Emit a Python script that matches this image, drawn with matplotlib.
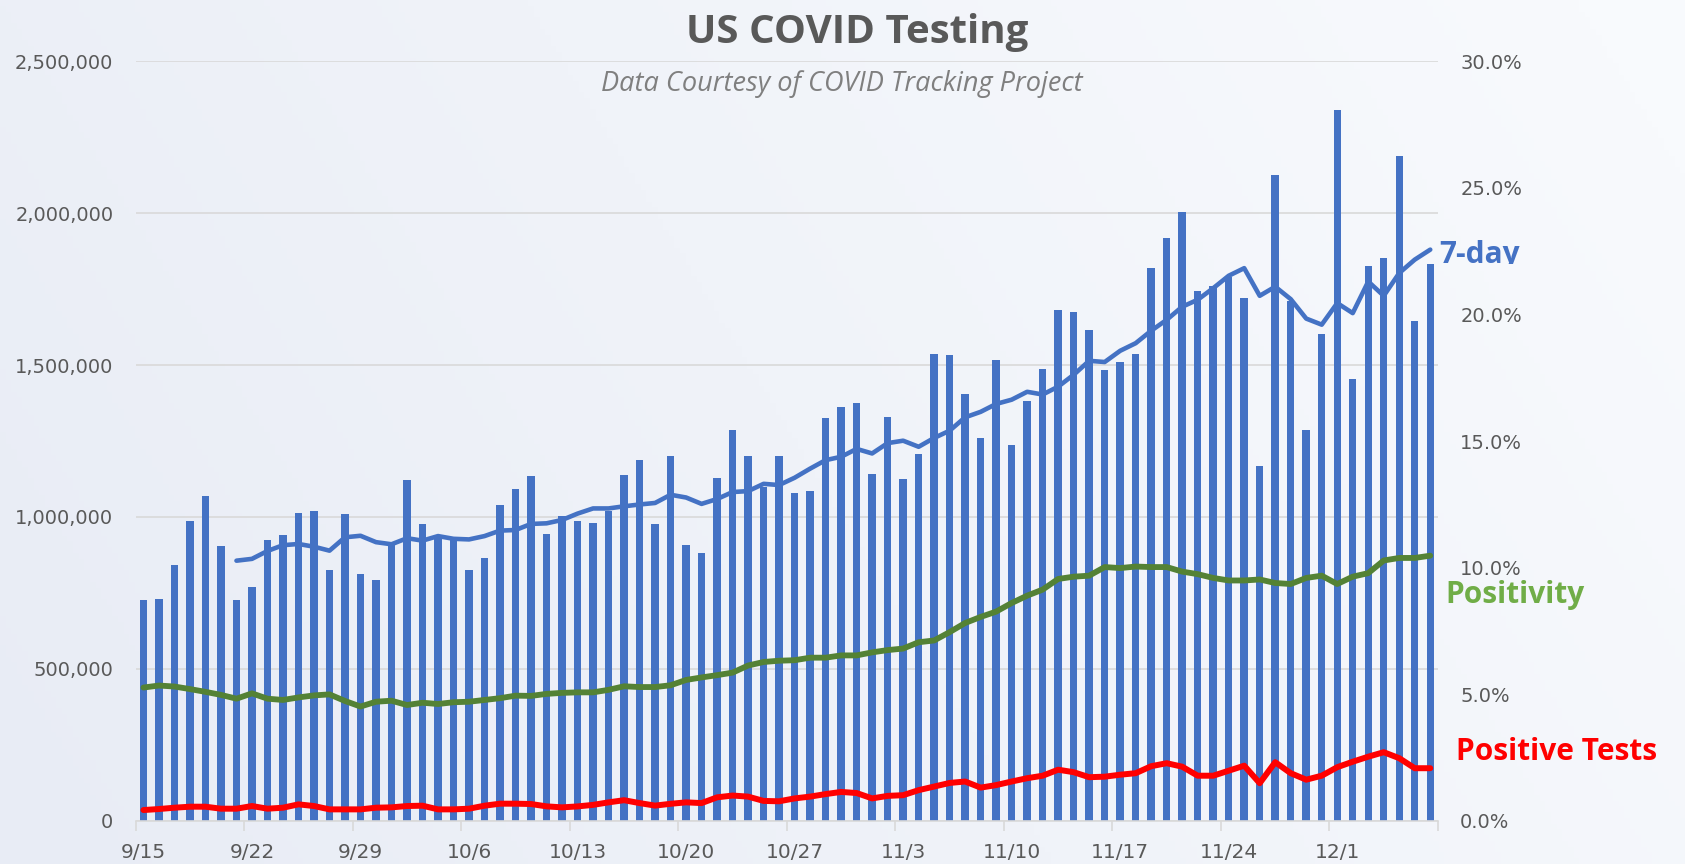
import numpy as np
import matplotlib
matplotlib.use("Agg")
import matplotlib.pyplot as plt
from matplotlib.ticker import FuncFormatter, FixedLocator
from matplotlib.transforms import Bbox

# ---------------- data ----------------
n_days = 84  # 9/15 .. 12/7
week_labels = ['9/15', '9/22', '9/29', '10/6', '10/13', '10/20', '10/27',
               '11/3', '11/10', '11/17', '11/24', '12/1']

daily_tests = [
    727000, 731000, 843000, 988000, 1068000, 905000, 727000, 770000, 924000, 942000,
    1013000, 1020000, 825000, 1011000, 813000, 792000, 906000, 1120000, 978000, 936000,
    925000, 826000, 864000, 1040000, 1093000, 1136000, 944000, 1002000, 986000, 979000,
    1020000, 1138000, 1188000, 976000, 1201000, 908000, 880000, 1129000, 1285000, 1202000,
    1100000, 1201000, 1080000, 1085000, 1325000, 1361000, 1374000, 1140000, 1328000, 1125000,
    1207000, 1535000, 1534000, 1405000, 1259000, 1518000, 1236000, 1381000, 1488000, 1682000,
    1676000, 1616000, 1485000, 1510000, 1537000, 1819000, 1918000, 2003000, 1743000, 1761000,
    1789000, 1720000, 1167000, 2125000, 1712000, 1287000, 1602000, 2339000, 1455000, 1827000,
    1854000, 2189000, 1646000, 1834000]

avg_7day = [None] * 6 + [
    856000, 862000, 888000, 907000, 911000, 902000, 889000, 933000, 938000, 917000,
    910000, 930000, 922000, 937000, 928000, 926000, 937000, 955000, 957000, 977000,
    979000, 990000,
    1011000, 1028000, 1028000, 1035000, 1041000, 1046000, 1073000, 1064000, 1043000, 1059000,
    1082000, 1085000, 1109000, 1105000, 1129000, 1159000, 1187000, 1198000, 1224000, 1209000,
    1243000, 1251000, 1231000, 1260000, 1284000, 1328000, 1346000, 1372000,
    1386000, 1412000, 1403000, 1429000, 1468000, 1514000, 1510000, 1547000, 1572000, 1613000,
    1649000, 1692000, 1715000, 1753000, 1794000, 1819000, 1728000, 1758000, 1717000, 1653000,
    1633000, 1704000, 1671000, 1775000, 1728000, 1803000, 1847000, 1880000]

positivity_pct = [
    5.26, 5.34, 5.30, 5.20, 5.09, 4.97, 4.82, 5.03, 4.82, 4.77, 4.87, 4.95, 4.99, 4.73, 4.51,
    4.70, 4.74, 4.57, 4.66, 4.61, 4.68, 4.70, 4.77, 4.84, 4.94, 4.93, 5.01, 5.05, 5.07,
    5.07, 5.17, 5.31, 5.28, 5.28, 5.35, 5.56, 5.66, 5.75, 5.85, 6.13, 6.27, 6.32, 6.34, 6.44,
    6.44, 6.53, 6.53, 6.65, 6.74, 6.80, 7.05, 7.12, 7.45, 7.81, 8.05, 8.26,
    8.60, 8.89, 9.13, 9.55, 9.64, 9.68, 10.02, 9.98, 10.04, 10.02, 10.02, 9.84, 9.74, 9.59,
    9.49, 9.49, 9.53, 9.39, 9.35, 9.59, 9.68, 9.35, 9.64, 9.78, 10.28, 10.38, 10.38, 10.47]

positive_tests = [
    35100, 38400, 42800, 46100, 46100, 39500, 39500, 48300, 39500, 42800, 53800, 48300, 37300,
    37300, 37300, 42800, 43900, 48300, 49400, 37300, 37300, 39500, 49400, 56000, 56000, 54900,
    47200, 43900, 47000,
    52100, 60400, 67500, 58000, 49700, 55600, 60400, 58000, 76900, 82800, 79300, 65100, 63900,
    73400, 79300, 87600, 94700, 91100, 73400, 81700, 84000, 100600, 112400, 124300, 129000,
    108900, 117200,
    129000, 139900, 148100, 167900, 159700, 143200, 144900, 151400, 156400, 179400, 189300,
    177800, 148100, 148100, 164600, 181100, 123500, 192600, 156400, 135000, 148100, 176100,
    194200, 210700, 225500, 205800, 172800, 172800]

# ---------------- styling ----------------
W, H = 1685, 864
BAR_BLUE = '#4472C4'
LINE_GREEN = '#548235'
LABEL_GREEN = '#70AD47'
RED = '#FF0000'
TXT = '#595959'
GRID = '#D9D9D9'

fig = plt.figure(figsize=(W / 100, H / 100), dpi=100)

# gradient background
bg = fig.add_axes([0, 0, 1, 1], zorder=-10)
xx, yy = np.meshgrid(np.linspace(0, 1, 300), np.linspace(0, 1, 150))
t = np.clip(0.8 * xx + 0.25 * (1 - yy), 0, 1)
c0 = np.array([232, 236, 245]) / 255.0
c1 = np.array([248, 250, 253]) / 255.0
img = c0[None, None, :] * (1 - t[..., None]) + c1[None, None, :] * t[..., None]
bg.imshow(img, aspect='auto', extent=[0, 1, 0, 1], origin='upper')
bg.axis('off')

def px(x, y):
    return x / W, 1 - y / H

left, right, bottom, top = 135.7, 1438.0, 820.7, 61.3
ax = fig.add_axes([left / W, 1 - bottom / H, (right - left) / W, (bottom - top) / H])
ax.patch.set_alpha(0)

idx = np.arange(n_days)
tests = np.array(daily_tests, dtype=float)
avg = np.array([np.nan if v is None else v for v in avg_7day], dtype=float)
pos = np.array(positive_tests, dtype=float)
pct = np.array(positivity_pct, dtype=float) / 100.0

ax.bar(idx, tests, width=0.48, color=BAR_BLUE, zorder=2)
ax.plot(idx, avg, color=BAR_BLUE, lw=3.3, zorder=3, solid_capstyle='round', solid_joinstyle='round')
ax.plot(idx, pos, color=RED, lw=4.3, zorder=3, solid_capstyle='round', solid_joinstyle='round')

ax.set_xlim(-0.5, n_days - 0.5)
ax.set_ylim(0, 2500000)
ax.set_yticks(np.arange(0, 2500001, 500000))
ax.yaxis.set_major_formatter(FuncFormatter(lambda v, p: f"{int(v):,}"))
ax.grid(axis='y', color=GRID, lw=1.2, zorder=0)
ax.set_axisbelow(True)
for s in ['top', 'right', 'left']:
    ax.spines[s].set_visible(False)
ax.spines['bottom'].set_color(GRID)
ax.spines['bottom'].set_linewidth(1.2)
ax.tick_params(axis='y', length=0, pad=16, labelsize=14, labelcolor=TXT)

# x ticks: marks at week boundaries, labels under first bar of each week
ax.xaxis.set_major_locator(FixedLocator(np.arange(-0.5, n_days, 7)))
ax.xaxis.set_major_formatter(FuncFormatter(lambda v, p: ''))
ax.xaxis.set_minor_locator(FixedLocator(np.arange(0, n_days - 1, 7)))
ax.set_xticklabels(week_labels, minor=True)
ax.tick_params(axis='x', which='major', length=7.5, width=1.2, color=GRID)
ax.tick_params(axis='x', which='minor', length=0, pad=16, labelsize=14.5, labelcolor=TXT)

ax2 = ax.twinx()
ax2.plot(idx, pct, color=LINE_GREEN, lw=4.2, zorder=4, solid_capstyle='round', solid_joinstyle='round')
ax2.set_ylim(0, 0.30)
ax2.set_yticks(np.arange(0, 0.3001, 0.05))
ax2.yaxis.set_major_formatter(FuncFormatter(lambda v, p: f"{v * 100:.1f}%"))
ax2.tick_params(axis='y', length=0, pad=16, labelsize=14, labelcolor=TXT)
for s in ['top', 'right', 'left', 'bottom']:
    ax2.spines[s].set_visible(False)
ax2.set_xlim(-0.5, n_days - 0.5)

# titles
fig.text(*px(857, 42.7), 'US COVID Testing', ha='center', va='baseline',
         fontsize=29, fontweight='bold', color=TXT, family='Open Sans')
fig.text(*px(842, 90.5), 'Data Courtesy of COVID Tracking Project', ha='center', va='baseline',
         fontsize=19.5, style='italic', color='#7F7F7F', family='Open Sans')

# series labels
t7 = fig.text(*px(1439, 262.5), '7-day', ha='left', va='baseline', fontsize=21.5,
              fontweight='bold', color=BAR_BLUE, family='Open Sans')
t7.set_clip_box(Bbox.from_extents(0, H - 263.5, W, H))
t7.set_clip_on(True)
fig.text(*px(1445, 602.5), 'Positivity', ha='left', va='baseline', fontsize=21.5,
         fontweight='bold', color=LABEL_GREEN, family='Open Sans')
fig.text(*px(1456, 760.5), 'Positive Tests', ha='left', va='baseline', fontsize=21.5,
         fontweight='bold', color=RED, family='Open Sans')

fig.savefig('out.png', dpi=100)
